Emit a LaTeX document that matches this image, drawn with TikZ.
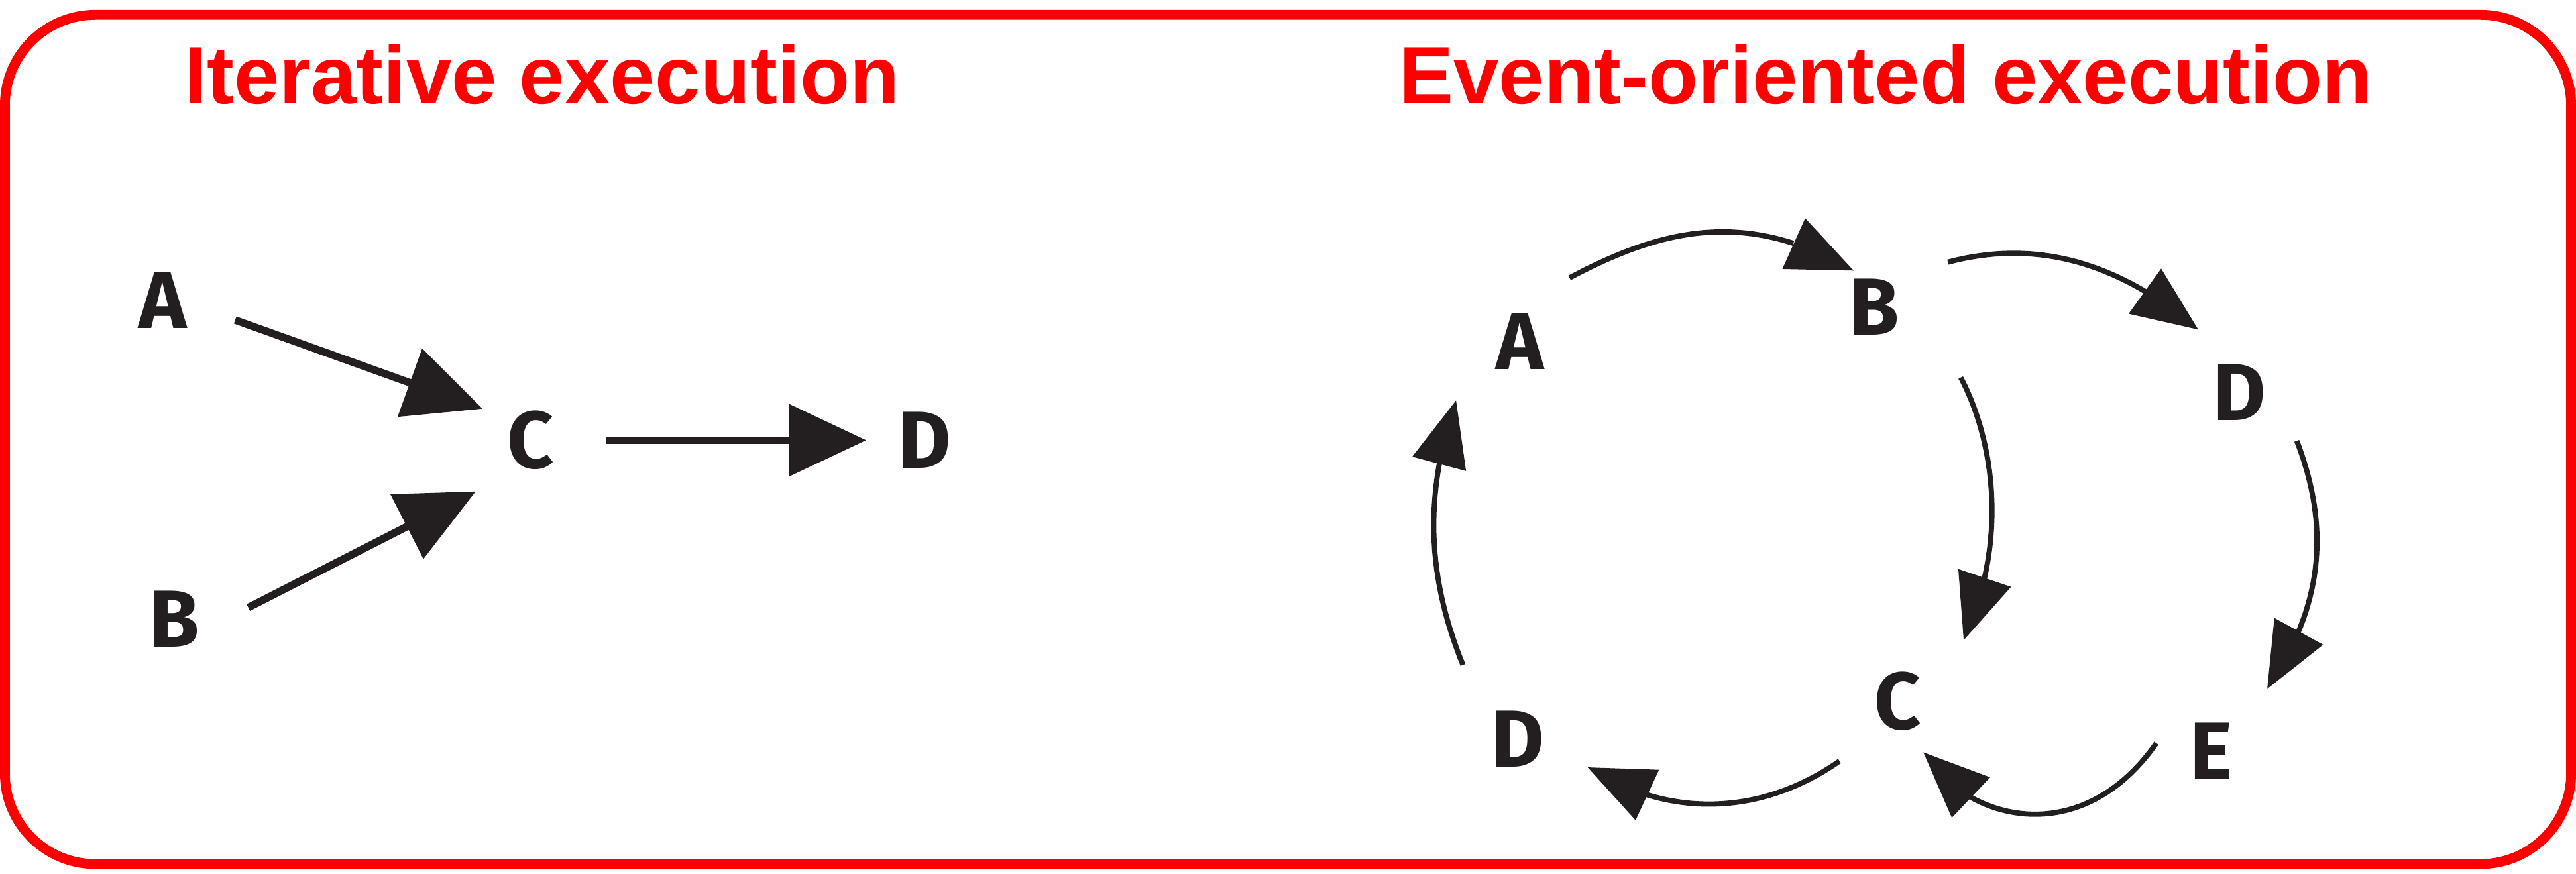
\documentclass[tikz,border=0pt]{standalone}
\usepackage{fontspec}
\usepackage{tikz}
\usetikzlibrary{arrows.meta,bending,shapes,positioning,calc}
\newfontfamily\headfont{Liberation Sans}
\newfontfamily\letterfont{Fira Sans}
\definecolor{framered}{RGB}{255,0,0}
\definecolor{inkgray}{RGB}{35,31,32}

\begin{document}
\begin{tikzpicture}[
			x = 0.01cm, y = 0.01cm,
			title/.style = {anchor = base, text = framered, font = \headfont\bfseries\fontsize{14.1pt}{16pt}\selectfont},
			letter/.style = {circle, inner sep = 0pt, minimum size = 0.9cm, text = inkgray, font = \letterfont\bfseries\fontsize{14pt}{16pt}\selectfont},
			flow/.style = {draw = inkgray, line width = 1.3pt, -{Triangle[length=4.7mm,width=4.3mm]}},
			loopflow/.style = {draw = inkgray, line width = 0.9pt, -{Triangle[length=4mm,width=3.3mm,flex]}}
			]

			\useasboundingbox (0,0) rectangle (1568,532);
			\draw[framered, line width = 1.7pt, rounded corners = 5.5mm] (3,6) rectangle (1565,523);

			\node[title] (itertitle) at (330,469) {Iterative execution};
			\node[title] (eventtitle) at (1148,469) {Event-oriented execution};

			% iterative
			\node[letter] (iA) at (99,349) {A};
			\node[letter] (iB) at (106,155) {B};
			\node[letter] (iC) at (323,264) {C};
			\node[letter] (iD) at (563,264) {D};

			\draw[flow, shorten >=-1.1mm] (iA.-15) -- (iC.150);
			\draw[flow] (iB.9) -- (iC.223);
			\draw[flow, shorten >=-1mm] (iC.0) -- (iD.180);

			% event-oriented
			\node[letter] (eA) at (925,324) {A};
			\node[letter] (eB) at (1141,345) {B};
			\node[letter] (eD) at (1363,293) {D};
			\node[letter] (eC) at (1155,105) {C};
			\node[letter] (eE) at (1346,75) {E};
			\node[letter] (eDD) at (924,82) {D};

			\draw[loopflow, shorten <=0.4mm, shorten >=-2.1mm] (eA.54) to[out=28, in=156] (eB.135);
			\draw[loopflow, shorten <=0.7mm] (eB.34) to[out=15, in=140] (eD.123);
			\draw[loopflow, shorten <=2.5mm, shorten >=1mm] (eB.-27) to[out=-62, in=64] (eC.38);
			\draw[loopflow, shorten >=0.5mm] (eD.-40) to[out=-69, in=55] (eE.47);
			\draw[loopflow, shorten <=-1.9mm, shorten >=-1.1mm] (eE.194) to[out=235, in=-50] (eC.-61);
			\draw[loopflow, shorten <=0.5mm] (eC.227) to[out=215, in=-32] (eDD.-22);
			\draw[loopflow, shorten <=1.1mm, shorten >=0.8mm] (eDD.130) to[out=112, in=-110] (eA.218);

		\end{tikzpicture}
\end{document}
